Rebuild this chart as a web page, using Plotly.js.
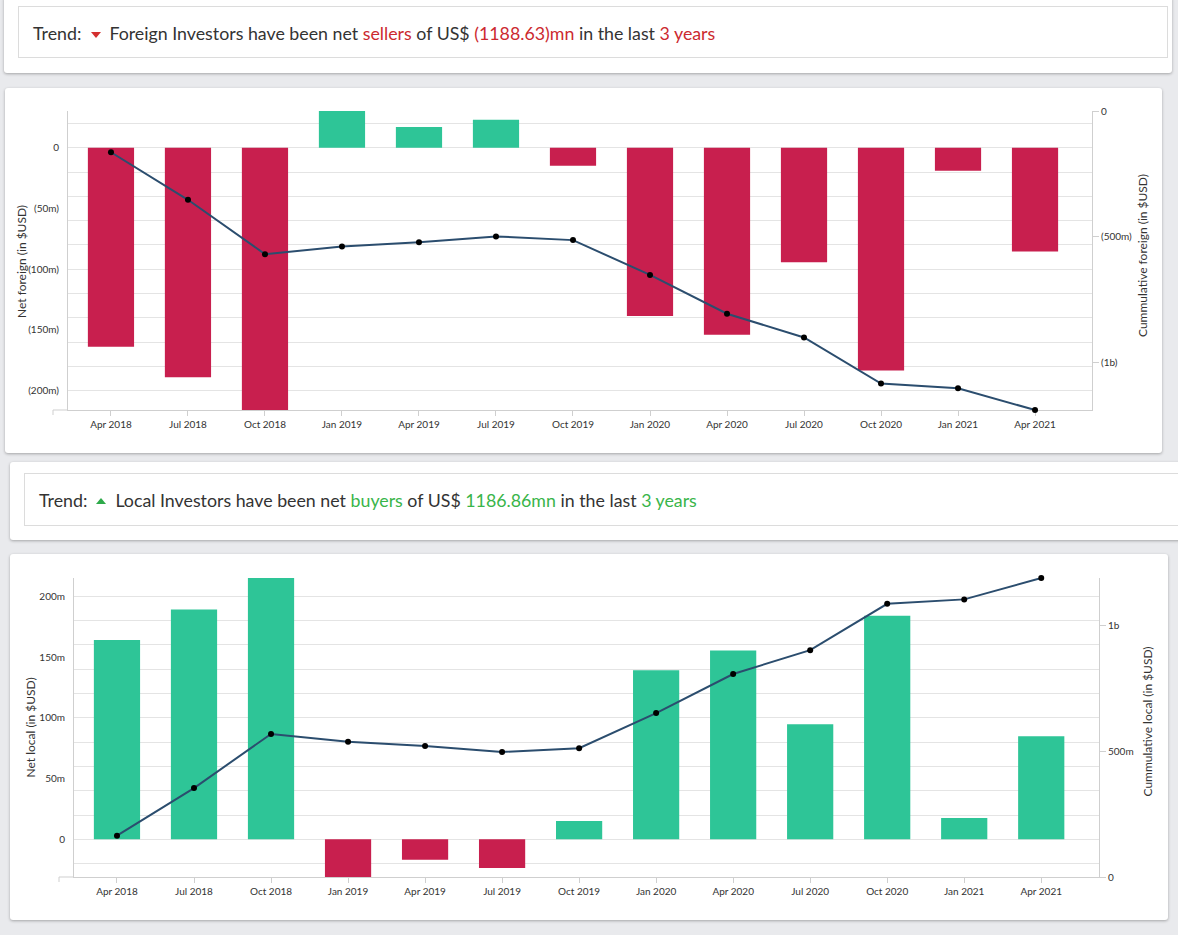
<!DOCTYPE html>
<html><head><meta charset="utf-8">
<script src="https://cdn.plot.ly/plotly-3.0.1.min.js"></script>
<style>
html,body{margin:0;padding:0;background:#e9eaed;width:1178px;height:935px;overflow:hidden;font-family:Lato,"Open Sans",sans-serif;}
.card{position:absolute;background:#fff;border-radius:3px;box-shadow:0 1px 3px rgba(0,0,0,0.30);}
.box{position:absolute;border:1px solid #dcdcdc;box-sizing:border-box;font-size:17.8px;color:#333;white-space:nowrap;padding-left:14px;}
.red{color:#cc2a2f}.green{color:#39b54a}
.tri-down{display:inline-block;width:0;height:0;border-left:5px solid transparent;border-right:5px solid transparent;border-top:6px solid #d32f2f;vertical-align:middle;margin:0 8px 0 10px;position:relative;top:-1px}
.tri-up{display:inline-block;width:0;height:0;border-left:5px solid transparent;border-right:5px solid transparent;border-bottom:6px solid #2eaa4a;vertical-align:middle;margin:0 9px 0 9px;position:relative;top:-2px}
.chart{position:absolute;}
</style></head>
<body>
<div class="card" style="left:4px;top:-4px;width:1168px;height:77px;"></div>
<div class="box" style="left:18px;top:6px;width:1150px;height:52px;line-height:52px;">Trend:<span class="tri-down"></span>Foreign Investors have been net <span class="red">sellers</span> of US$ <span class="red">(1188.63)mn</span> in the last <span class="red">3 years</span></div>

<div class="card" style="left:5px;top:88px;width:1157px;height:365px;"></div>
<div id="chart1" class="chart" style="left:5px;top:88px;width:1157px;height:365px;"></div>

<div class="card" style="left:10px;top:462px;width:1180px;height:78px;"></div>
<div class="box" style="left:24px;top:473px;width:1170px;height:53px;line-height:53px;">Trend:<span class="tri-up"></span>Local Investors have been net <span class="green">buyers</span> of US$ <span class="green">1186.86mn</span> in the last <span class="green">3 years</span></div>

<div class="card" style="left:10px;top:554px;width:1158px;height:366px;"></div>
<div id="chart2" class="chart" style="left:10px;top:554px;width:1158px;height:366px;"></div>

<script>
const quarters = ['Apr 2018','Jul 2018','Oct 2018','Jan 2019','Apr 2019','Jul 2019','Oct 2019','Jan 2020','Apr 2020','Jul 2020','Oct 2020','Jan 2021','Apr 2021'];

// Net foreign flows (US$ m) and cumulative foreign (US$ m)
const foreignNet = [-164, -189, -216, 30.3, 17.2, 23, -14.8, -138.5, -154, -94.3, -183.5, -18.9, -85.5];
const foreignCum = [-164, -353, -569, -538.7, -521.5, -498.5, -513.3, -651.8, -805.8, -900.1, -1083.6, -1102.5, -1188.63];

// Net local flows (US$ m) and cumulative local (US$ m)
const localNet = [164, 189, 215, -31, -16.9, -23.6, 15, 139, 155.3, 94.7, 184, 17.5, 84.8];
const localCum = [164, 353, 568, 537, 520.1, 496.5, 511.5, 650.5, 805.8, 900.5, 1084.5, 1102, 1186.86];

const foreignLeftTickVals = [0, -50, -100, -150, -200];
const foreignLeftTickText = ['0', '(50m)', '(100m)', '(150m)', '(200m)'];
const foreignRightTickVals = [0, -500, -1000];
const foreignRightTickText = ['0', '(500m)', '(1b)'];

const localLeftTickVals = [0, 50, 100, 150, 200];
const localLeftTickText = ['0', '50m', '100m', '150m', '200m'];
const localRightTickVals = [0, 500, 1000];
const localRightTickText = ['0', '500m', '1b'];

const RED = '#c81f4e', GREEN = '#2ec597', LINE = '#2b4d6e';
const AX = '#cfcfcf', GRID = '#e4e4e4', TXT = '#333';
const FONT = 'Lato, "Open Sans", sans-serif';

function makeChart(id, net, cum, lv, lt, rv, rt, rightRange, leftTitle, rightTitle, g) {
  const leftRange = [Math.min(...net), Math.max(...net)];
  const traces = [
    {type:'bar', x:quarters, y:net, yaxis:'y', marker:{color:net.map(v => v < 0 ? RED : GREEN)}, hoverinfo:'skip', showlegend:false},
    {type:'scatter', mode:'none', x:quarters, y:net, yaxis:'y3', hoverinfo:'skip', showlegend:false},
    {type:'scatter', mode:'lines+markers', x:quarters, y:cum, yaxis:'y2', cliponaxis:false, line:{color:LINE, width:2}, marker:{color:'#000', size:6}, hoverinfo:'skip', showlegend:false}
  ];
  const pxw = g.w, pxh = g.h;
  const layout = {
    width:g.W, height:g.H,
    margin:{l:g.l, r:g.W - g.l - pxw, t:g.t, b:g.H - g.t - pxh, pad:0},
    paper_bgcolor:'rgba(0,0,0,0)', plot_bgcolor:'rgba(0,0,0,0)',
    font:{family:FONT, size:10, color:TXT},
    bargap:0.4,
    xaxis:{type:'category', range:g.xr, layer:'below traces', showgrid:false, showline:true, linecolor:AX, ticks:'outside', ticklen:5, tickcolor:AX, tickfont:{family:FONT, size:10, color:TXT}, zeroline:false, fixedrange:true},
    yaxis:{range:leftRange, tick0:0, dtick:20, showgrid:true, gridcolor:GRID, gridwidth:1, showticklabels:false, ticks:'', showline:false, zeroline:false, fixedrange:true},
    yaxis3:{overlaying:'y', side:'left', anchor:'x', range:leftRange, tickmode:'array', tickvals:lv, ticktext:lt, showgrid:false, zeroline:false, showline:true, linecolor:AX, ticks:'outside', ticklen:6, tickcolor:'rgba(0,0,0,0)', tickfont:{family:FONT, size:10, color:TXT}, fixedrange:true},
    yaxis2:{overlaying:'y', side:'right', anchor:'x', range:rightRange, tickmode:'array', tickvals:rv, ticktext:rt, showgrid:false, zeroline:false, showline:true, linecolor:AX, ticks:'outside', ticklen:6, tickcolor:AX, tickfont:{family:FONT, size:10, color:TXT}, fixedrange:true},
    shapes:[
      {type:'line', xref:'paper', yref:'paper', layer:'below', x0:-15/pxw, x1:0, y0:0, y1:0, line:{color:AX, width:1}},
      {type:'line', xref:'paper', yref:'paper', layer:'below', x0:-15/pxw, x1:-15/pxw, y0:0, y1:-5/pxh, line:{color:AX, width:1}}
    ],
    annotations:[
      {xref:'paper', yref:'paper', x:g.ltx, y:g.lty, text:leftTitle, showarrow:false, textangle:-90, xanchor:'center', yanchor:'middle', font:{family:FONT, size:12, color:TXT}},
      {xref:'paper', yref:'paper', x:g.rtx, y:g.rty, text:rightTitle, showarrow:false, textangle:-90, xanchor:'center', yanchor:'middle', font:{family:FONT, size:12, color:TXT}}
    ]
  };
  Plotly.newPlot(id, traces, layout, {displayModeBar:false, staticPlot:true});
}

makeChart('chart1', foreignNet, foreignCum, foreignLeftTickVals, foreignLeftTickText, foreignRightTickVals, foreignRightTickText,
  [Math.min(...foreignCum), 0], 'Net foreign (in $USD)', 'Cummulative foreign (in $USD)',
  {W:1157, H:365, l:63, t:23, w:1024, h:299, xr:[-0.558, 12.74], ltx:-46/1024, lty:0.495, rtx:(1142-68)/1024, rty:0.515});

makeChart('chart2', localNet, localCum, localLeftTickVals, localLeftTickText, localRightTickVals, localRightTickText,
  [0, Math.max(...localCum)], 'Net local (in $USD)', 'Cummulative local (in $USD)',
  {W:1158, H:366, l:64, t:24, w:1025, h:299, xr:[-0.558, 12.75], ltx:-44/1025, lty:0.5, rtx:(1148-74)/1025, rty:0.52});
</script>
</body></html>
